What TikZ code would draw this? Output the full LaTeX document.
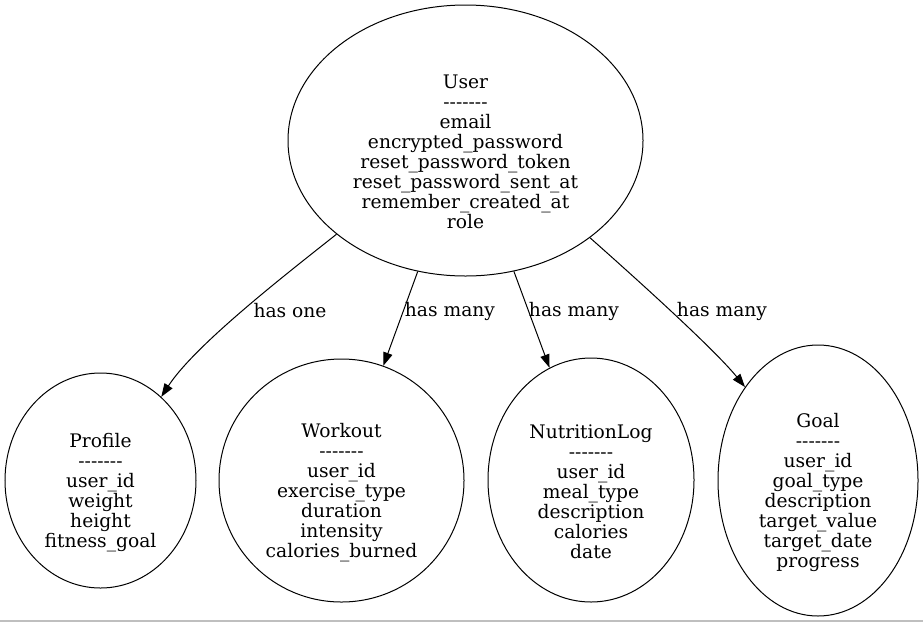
\documentclass[tikz,border=0pt]{standalone}
\usepackage{fontspec}
\setmainfont{DejaVu Serif}[Ligatures=TeXOff]
\usetikzlibrary{shapes.geometric,arrows.meta}
\begin{document}
\begin{tikzpicture}[x=0.75pt,y=-0.75pt,
  entity/.style={draw=black,line width=0.75pt,ellipse,inner sep=0pt},
  etext/.style={align=center,inner sep=0pt,font=\fontsize{14}{15}\selectfont},
  rel/.style={draw=black,line width=0.75pt,-{Triangle[length=10pt,width=7pt]}},
  rlabel/.style={inner sep=0pt,font=\fontsize{14}{15}\selectfont}]
\useasboundingbox (0,0) rectangle (923,622);
\fill[white] (0,0) rectangle (923,622);
\draw[black!25,line width=1.5] (0,620.5) coordinate (bl) -- (923,620.5) coordinate (br);

% entities
\node[entity,minimum width=266.25pt,minimum height=203.25pt] (User) at (465.5,140.5) {};
\node[entity,minimum width=143.25pt,minimum height=161.25pt] (Profile) at (100.5,480.5) {};
\node[entity,minimum width=183.75pt,minimum height=182.25pt] (Workout) at (341.5,480.5) {};
\node[entity,minimum width=154.5pt,minimum height=183pt] (Nutrition) at (591,480) {};
\node[entity,minimum width=150pt,minimum height=203.25pt] (Goal) at (818,480.5) {};

\node[etext] (UserT) at (465.5,151.5) {User\\-------\\email\\encrypted\_password\\reset\_password\_token\\reset\_password\_sent\_at\\remember\_created\_at\\role};
\node[etext] (ProfileT) at (100.5,492.5) {Profile\\-------\\user\_id\\weight\\height\\fitness\_goal};
\node[etext] (WorkoutT) at (341.5,492.5) {Workout\\-------\\user\_id\\exercise\_type\\duration\\intensity\\calories\_burned};
\node[etext] (NutritionT) at (591,492) {NutritionLog\\-------\\user\_id\\meal\_type\\description\\calories\\date};
\node[etext] (GoalT) at (818,492) {Goal\\-------\\user\_id\\goal\_type\\description\\target\_value\\target\_date\\progress};

% relations
\draw[rel] (User.216) .. controls (285,275) and (195,345) .. (Profile.54);
\draw[rel] (User) -- (Workout);
\draw[rel] (User) -- (Nutrition);
\draw[rel] (User.-38.7) .. controls (640,282) and (715,350) .. (Goal.128);

\node[rlabel] (l1) at (290,311) {has one};
\node[rlabel] (l2) at (450,311) {has many};
\node[rlabel] (l3) at (574,311) {has many};
\node[rlabel] (l4) at (722,311) {has many};
\end{tikzpicture}
\end{document}
